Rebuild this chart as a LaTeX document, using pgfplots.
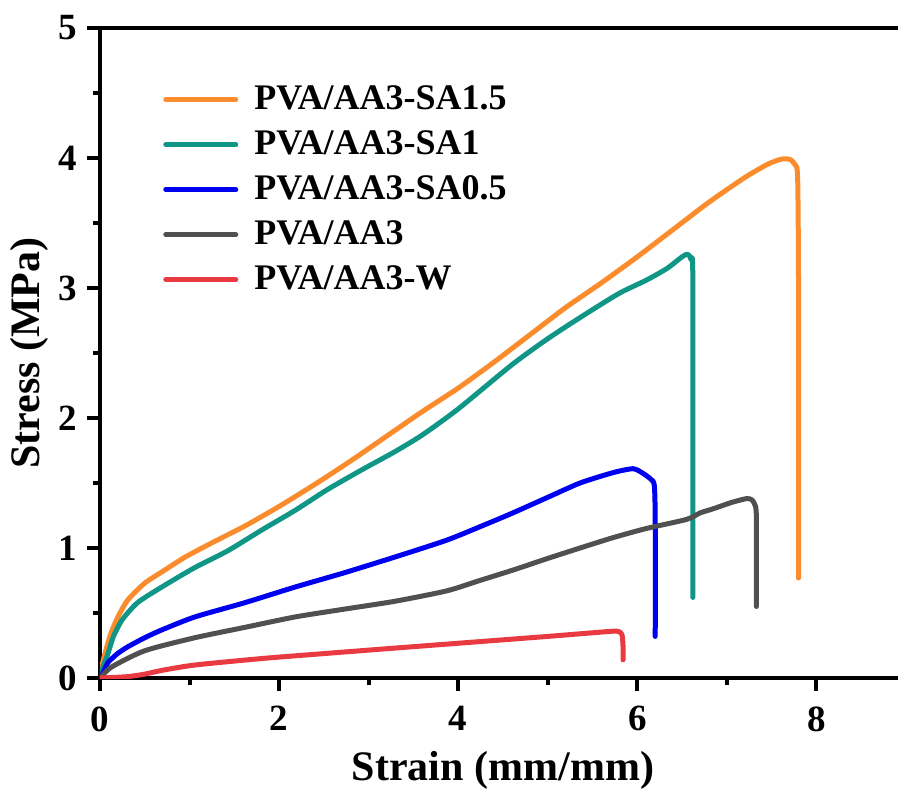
\documentclass[border=0pt]{standalone}
\usepackage{fontspec}
\setmainfont{Liberation Serif}
\usepackage{pgfplots}
\pgfplotsset{compat=1.18}
\definecolor{cOr}{HTML}{FA8C2D}
\definecolor{cTe}{HTML}{109687}
\definecolor{cBl}{HTML}{0000F0}
\definecolor{cGr}{HTML}{505050}
\definecolor{cRe}{HTML}{E83A40}
\begin{document}
\begin{tikzpicture}
\begin{axis}[name=ax, at={(0,0)}, anchor=south west,
  scale only axis, width=403pt, height=325pt,
  xmin=0, xmax=9, ymin=0, ymax=5,
  xtick={0,2,4,6,8}, ytick={0,1,2,3,4,5},
  xticklabels={\textbf{0},\textbf{2},\textbf{4},\textbf{6},\textbf{8}},
  yticklabels={\textbf{0},\textbf{1},\textbf{2},\textbf{3},\textbf{4},\textbf{5}},
  minor x tick num=1, minor y tick num=1,
  tick align=outside, xtick pos=bottom, ytick pos=left,
  major tick length=6.5pt, minor tick length=3.5pt,
  every tick/.style={black, line width=2pt},
  axis line style={line width=2.2pt},
  xticklabel style={anchor=north, inner sep=0pt, yshift=-7.5pt, font=\fontsize{18.5}{18.5}\selectfont\bfseries},
  yticklabel style={anchor=east, inner sep=0pt, xshift=-5pt, font=\fontsize{18.5}{18.5}\selectfont\bfseries},
  xlabel={Strain (mm/mm)}, ylabel={Stress (MPa)},
  every axis x label/.style={at={(axis description cs:0.5,-0.1415)}, anchor=center, font=\fontsize{21}{21}\selectfont\bfseries},
  every axis y label/.style={at={(axis description cs:-0.087,0.5)}, anchor=center, rotate=90, font=\fontsize{21}{21}\selectfont\bfseries},
  legend cell align=left,
  legend style={at={(axis description cs:0.078,0.912)}, anchor=north west,
    draw=none, fill=none, inner sep=0pt, row sep=10.5pt,
    font=\fontsize{18}{18}\selectfont\bfseries,
    nodes={inner sep=0pt, text height=12pt, text depth=0pt},
    /tikz/every odd column/.style={column sep=8pt}},
  legend image code/.code={\draw[#1, line width=2.5pt, line cap=round] (0pt,-1pt) -- (35pt,-1pt);},
  every axis plot/.append style={line width=2.5pt, line join=round, line cap=round, smooth, tension=0.4},
  ]
\addplot[cOr] coordinates {
(0,0) (0.02,0.09) (0.06,0.20) (0.12,0.34) (0.2,0.47) (0.31,0.60) (0.5,0.73) (0.7,0.82)
(0.95,0.93) (1.25,1.04) (1.62,1.17) (2.0,1.32) (2.4,1.49) (2.8,1.67) (3.2,1.86) (3.6,2.05)
(4.0,2.23) (4.4,2.43) (4.8,2.64) (5.2,2.85) (5.6,3.04) (6.0,3.24) (6.4,3.45) (6.8,3.66)
(7.2,3.85) (7.45,3.95) (7.6,3.99) (7.7,3.99) (7.76,3.95) (7.79,3.85) (7.80,3.0) (7.80,0.77)};
\addlegendentry{PVA/AA3-SA1.5}
\addplot[cTe] coordinates {
(0,0) (0.03,0.08) (0.09,0.19) (0.15,0.32) (0.25,0.45) (0.42,0.58) (0.69,0.70) (1.06,0.85)
(1.43,0.98) (1.81,1.14) (2.18,1.29) (2.54,1.45) (2.92,1.60) (3.29,1.74) (3.6,1.87) (4.0,2.07)
(4.6,2.41) (5.0,2.61) (5.4,2.79) (5.8,2.96) (6.1,3.06) (6.33,3.15) (6.5,3.24) (6.56,3.26)
(6.6,3.22) (6.62,3.05) (6.62,0.62)};
\addlegendentry{PVA/AA3-SA1}
\addplot[cBl] coordinates {
(0,0) (0.04,0.05) (0.09,0.12) (0.2,0.19) (0.31,0.24) (0.5,0.31) (0.69,0.37) (1.06,0.47)
(1.62,0.58) (2.18,0.70) (2.73,0.81) (3.29,0.93) (3.87,1.06) (4.3,1.18) (4.61,1.27) (5.0,1.39)
(5.36,1.50) (5.73,1.58) (5.95,1.61) (6.05,1.58) (6.15,1.53) (6.19,1.48) (6.20,1.2) (6.20,0.32)};
\addlegendentry{PVA/AA3-SA0.5}
\addplot[cGr] coordinates {
(0,0) (0.13,0.085) (0.5,0.21) (1.06,0.31) (1.62,0.39) (2.18,0.47) (2.73,0.53) (3.29,0.59)
(3.87,0.67) (4.24,0.75) (4.61,0.83) (5.0,0.92) (5.36,1.00) (5.73,1.08) (6.10,1.15) (6.55,1.22)
(6.7,1.27) (6.84,1.30) (7.05,1.35) (7.22,1.38) (7.28,1.37) (7.32,1.32) (7.33,1.2) (7.33,0.55)};
\addlegendentry{PVA/AA3}
\addplot[cRe] coordinates {
(0,0) (0.3,0.01) (0.5,0.03) (0.7,0.06) (1.06,0.10) (1.81,0.15) (2.54,0.19) (3.29,0.23)
(4.24,0.28) (5.0,0.32) (5.36,0.34) (5.73,0.36) (5.80,0.355) (5.83,0.33) (5.84,0.25) (5.84,0.14)};
\addlegendentry{PVA/AA3-W}
\end{axis}
\pgfresetboundingbox
\path[use as bounding box] ([shift={(-50pt,-58pt)}]ax.south west) rectangle ([shift={(399pt,339pt)}]ax.south west);
\end{tikzpicture}
\end{document}
